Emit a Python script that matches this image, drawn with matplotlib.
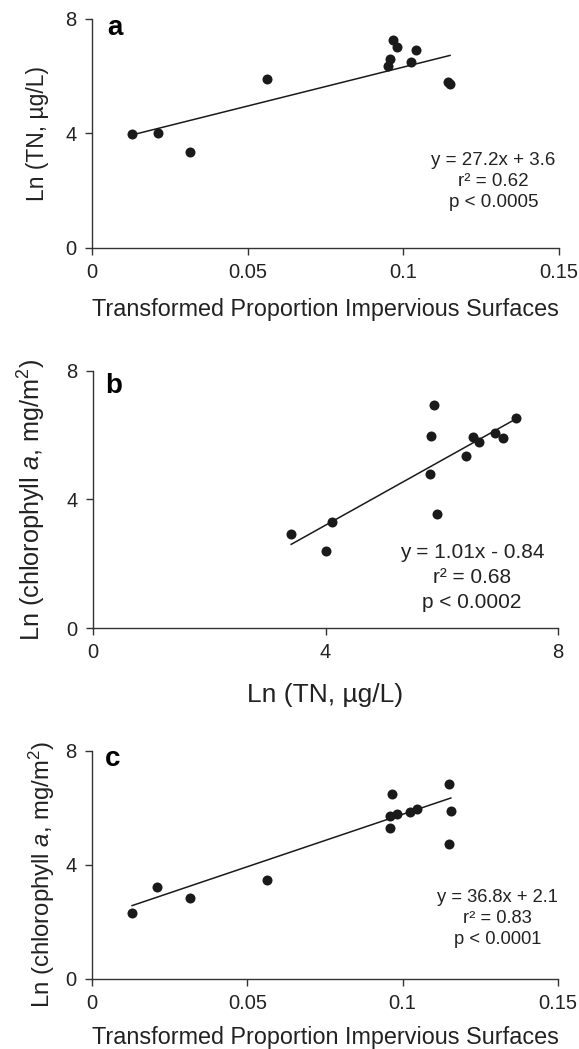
import matplotlib
matplotlib.use("Agg")
import matplotlib.pyplot as plt
import numpy as np

plt.rcParams['font.family'] = ['Liberation Sans', 'DejaVu Sans']
plt.rcParams['mathtext.fontset'] = 'custom'
plt.rcParams['mathtext.rm'] = 'Liberation Sans'
plt.rcParams['mathtext.it'] = 'Liberation Sans:italic'

# panel a: impervious surfaces vs Ln TN
imp_a = [0.0128, 0.0213, 0.0315, 0.0563, 0.0966, 0.0979, 0.0957, 0.0952, 0.1042, 0.1024, 0.1143, 0.1150]
tn_a = [3.97, 4.01, 3.35, 5.89, 7.26, 7.03, 6.61, 6.35, 6.91, 6.49, 5.81, 5.74]

# panel b: Ln TN vs Ln chlorophyll a
tn_b = [3.41, 4.11, 4.01, 5.87, 5.82, 5.79, 5.92, 6.41, 6.53, 6.64, 6.92, 7.05, 7.28]
chl_b = [2.92, 3.30, 2.40, 6.93, 5.98, 4.79, 3.54, 5.36, 5.93, 5.78, 6.06, 5.90, 6.55]

# panel c: impervious surfaces vs Ln chlorophyll a
imp_c = [0.0129, 0.0209, 0.0314, 0.0563, 0.0959, 0.0959, 0.0966, 0.0982, 0.1025, 0.1045, 0.1149, 0.1155, 0.1149]
chl_c = [2.30, 3.23, 2.85, 3.47, 5.29, 5.73, 6.48, 5.80, 5.85, 5.96, 6.85, 5.90, 4.73]

# regression fits (slope, intercept) as printed
fit_a = (27.2, 3.6)
fit_b = (1.01, -0.84)
fit_c = (36.8, 2.1)

imp_ticks = [0, 0.05, 0.1, 0.15]
imp_labels = ['0', '0.05', '0.1', '0.15']
ln_ticks = [0, 4, 8]

W, H = 579, 1049
fig = plt.figure(figsize=(W / 100, H / 100), dpi=100)

def px_axes(left, right, top, bottom):
    return fig.add_axes([left / W, 1 - bottom / H, (right - left) / W, (bottom - top) / H])

ax_a = px_axes(92, 559, 19, 248)
ax_b = px_axes(93, 558, 371, 628)
ax_c = px_axes(92, 558, 751, 979)

col = '#1a1a1a'
txt = '#222222'

def style(ax, xt, xl, xlim):
    for s in ['top', 'right']:
        ax.spines[s].set_visible(False)
    for s in ['left', 'bottom']:
        ax.spines[s].set_linewidth(1.0)
        ax.spines[s].set_color('#333333')
    ax.set_xlim(*xlim)
    ax.set_ylim(0, 8)
    ax.set_xticks(xt)
    ax.set_xticklabels(xl)
    ax.set_yticks(ln_ticks)
    ax.tick_params(direction='out', length=5, width=1.0, color='#333333',
                   labelsize=14.5, labelcolor=txt, pad=6)

def draw(ax, x, y, fit):
    ax.scatter(x, y, s=52, color=col, zorder=3, linewidths=0)
    xs = np.array([min(x), max(x)])
    ax.plot(xs, fit[0] * xs + fit[1], color=col, lw=1.1)

draw(ax_a, imp_a, tn_a, fit_a)
style(ax_a, imp_ticks, imp_labels, (0, 0.15))
ax_a.set_xlabel('Transformed Proportion Impervious Surfaces', fontsize=16.8, labelpad=11, color=txt)
ax_a.set_ylabel('Ln (TN, \u00b5g/L)', fontsize=16.5, labelpad=12, color=txt)
ax_a.text(0.032, 0.93, 'a', transform=ax_a.transAxes, fontsize=20, fontweight='bold', va='baseline', ha='left')
ax_a.text(0.86, 0.29, 'y = 27.2x + 3.6\nr\u00b2 = 0.62\np < 0.0005', transform=ax_a.transAxes,
          fontsize=13.5, ha='center', va='center', linespacing=1.28, color=txt)

draw(ax_b, tn_b, chl_b, fit_b)
style(ax_b, ln_ticks, ['0', '4', '8'], (0, 8))
ax_b.set_xlabel('Ln (TN, \u00b5g/L)', fontsize=19, labelpad=15, color=txt)
ax_b.set_ylabel('Ln (chlorophyll $\\mathit{a}$, mg/m$^2$)', fontsize=18.2, labelpad=13, color=txt)
ax_b.text(0.026, 0.914, 'b', transform=ax_b.transAxes, fontsize=20, fontweight='bold', va='baseline', ha='left')
ax_b.text(0.815, 0.195, 'y = 1.01x - 0.84\nr\u00b2 = 0.68\np < 0.0002', transform=ax_b.transAxes,
          fontsize=15, ha='center', va='center', linespacing=1.4, color=txt)

draw(ax_c, imp_c, chl_c, fit_c)
style(ax_c, imp_ticks, imp_labels, (0, 0.15))
ax_c.set_xlabel('Transformed Proportion Impervious Surfaces', fontsize=16.8, labelpad=9, color=txt)
ax_c.set_ylabel('Ln (chlorophyll $\\mathit{a}$, mg/m$^2$)', fontsize=17.2, labelpad=6, color=txt)
ax_c.yaxis.label.set_y(0.46)
ax_c.text(0.028, 0.934, 'c', transform=ax_c.transAxes, fontsize=20, fontweight='bold', va='baseline', ha='left')
ax_c.text(0.87, 0.265, 'y = 36.8x + 2.1\nr\u00b2 = 0.83\np < 0.0001', transform=ax_c.transAxes,
          fontsize=13.2, ha='center', va='center', linespacing=1.34, color=txt)

fig.savefig('out.png', dpi=100, facecolor='white')
